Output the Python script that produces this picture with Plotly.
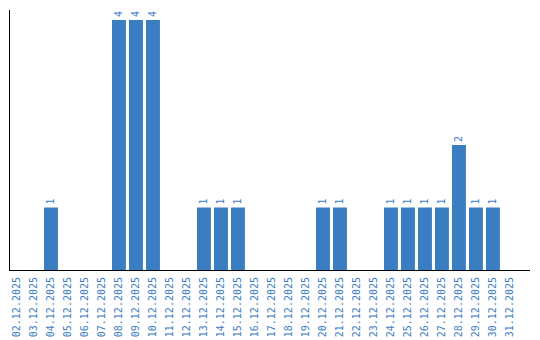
import plotly.graph_objects as go

dates = [f"{d:02d}.12.2025" for d in range(2, 32)]
values = [0, 0, 1, 0, 0, 0, 4, 4, 4, 0, 0, 1, 1, 1, 0, 0, 0, 0, 1, 1, 0, 0, 1, 1, 1, 1, 2, 1, 1, 0]
labels = [str(v) if v else "" for v in values]

BLUE = "#3b7dc1"
FONT = "DejaVu Sans Mono"

fig = go.Figure(go.Bar(
    x=dates, y=values, text=labels, textposition="outside", textangle=-90,
    textfont=dict(family=FONT, size=10, color=BLUE),
    marker=dict(color=BLUE, line=dict(width=0)), cliponaxis=False,
))
fig.update_layout(
    width=540, height=340, margin=dict(l=10, r=10, t=10, b=70),
    paper_bgcolor="white", plot_bgcolor="white", bargap=0.18,
    showlegend=False, uniformtext=dict(mode=False),
)
fig.update_xaxes(type="category", range=[-0.41, 30.18], showline=True, linecolor="black", linewidth=1,
                 tickangle=-90, ticks="", showgrid=False, zeroline=False, automargin=False,
                 ticklabelstandoff=2,
                 tickfont=dict(family=FONT, size=10, color=BLUE))
fig.update_yaxes(range=[0, 4.16], showline=True, linecolor="black", linewidth=1, automargin=False,
                 showticklabels=False, ticks="", showgrid=False, zeroline=False)
fig.write_html("out.html")
